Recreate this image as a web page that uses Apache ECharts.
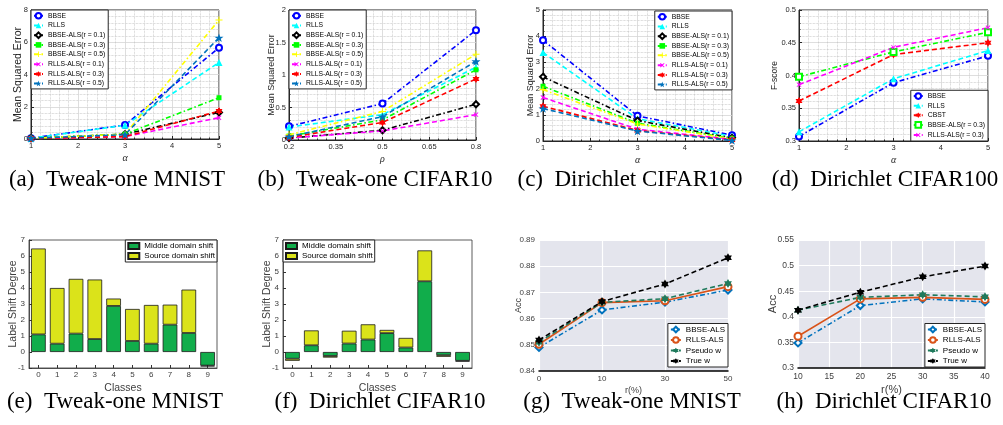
<!DOCTYPE html>
<html>
<head>
<meta charset="utf-8">
<script src="https://cdn.jsdelivr.net/npm/echarts@6/dist/echarts.min.js"></script>
<style>
  body { margin: 0; background: #fff; }
  .panel { position: absolute; }
</style>
</head>
<body>
<div id="pa" class="panel" style="left:0;top:0;width:250px;height:200px"></div>
<div id="pb" class="panel" style="left:250px;top:0;width:250px;height:200px"></div>
<div id="pc" class="panel" style="left:500px;top:0;width:250px;height:200px"></div>
<div id="pd" class="panel" style="left:750px;top:0;width:253px;height:200px"></div>
<div id="pe" class="panel" style="left:0;top:200px;width:250px;height:225px"></div>
<div id="pf" class="panel" style="left:250px;top:200px;width:250px;height:225px"></div>
<div id="pg" class="panel" style="left:500px;top:200px;width:250px;height:225px"></div>
<div id="ph" class="panel" style="left:750px;top:200px;width:253px;height:225px"></div>
<script>
// (a) Tweak-one MNIST, MSE vs alpha
const alphaA = [1, 3, 5]
const aBBSE = [0.05, 0.87, 5.66]
const aRLLS = [0.05, 0.85, 4.75]
const aBBSEals1 = [0.05, 0.3, 1.65]
const aBBSEals3 = [0.05, 0.3, 2.56]
const aBBSEals5 = [0.05, 0.3, 7.38]
const aRLLSals1 = [0.03, 0.15, 1.32]
const aRLLSals3 = [0.03, 0.15, 1.73]
const aRLLSals5 = [0.05, 0.27, 6.28]

// (b) Tweak-one CIFAR10, MSE vs rho
const rhoB = [0.2, 0.5, 0.8]
const bBBSE = [0.21, 0.56, 1.69]
const bRLLS = [0.2, 0.39, 1.12]
const bBBSEals1 = [0.03, 0.15, 0.55]
const bBBSEals3 = [0.06, 0.31, 1.08]
const bBBSEals5 = [0.08, 0.44, 1.32]
const bRLLSals1 = [0.03, 0.14, 0.39]
const bRLLSals3 = [0.04, 0.27, 0.94]
const bRLLSals5 = [0.05, 0.36, 1.21]

// (c) Dirichlet CIFAR100, MSE vs alpha
const alphaC = [1, 3, 5]
const cBBSE = [3.85, 0.96, 0.22]
const cRLLS = [3.38, 0.85, 0.18]
const cBBSEals1 = [2.45, 0.78, 0.12]
const cBBSEals3 = [2.09, 0.68, 0.1]
const cBBSEals5 = [1.96, 0.65, 0.08]
const cRLLSals1 = [1.66, 0.45, 0.06]
const cRLLSals3 = [1.33, 0.4, 0.04]
const cRLLSals5 = [1.24, 0.38, 0.02]

// (d) Dirichlet CIFAR100, F-score vs alpha
const alphaD = [1, 3, 5]
const dBBSE = [0.307, 0.389, 0.43]
const dRLLS = [0.314, 0.395, 0.438]
const dCBST = [0.361, 0.432, 0.45]
const dBBSEals3 = [0.398, 0.436, 0.466]
const dRLLSals3 = [0.386, 0.443, 0.473]

// (e) / (f) label shift degree per class
const classes = ['0', '1', '2', '3', '4', '5', '6', '7', '8', '9']
const eMiddle = [1.1, 0.52, 1.15, 0.81, 2.88, 0.69, 0.52, 1.71, 1.19, -0.85]
const eSource = [5.37, 3.48, 3.42, 3.72, 0.46, 2.0, 2.42, 1.25, 2.71, -0.05]
const fMiddle = [-0.42, 0.42, -0.25, 0.53, 0.78, 1.18, 0.28, 4.42, -0.2, -0.55]
const fSource = [-0.13, 0.93, -0.1, 0.8, 0.95, 0.2, 0.6, 1.93, -0.1, -0.05]

// (g) Tweak-one MNIST, Acc vs r(%)
const gR = ['0', '10', '30', '50']
const gBBSE = [0.849, 0.8633, 0.8663, 0.8709]
const gRLLS = [0.8502, 0.8661, 0.8668, 0.8722]
const gPseudo = [0.851, 0.8662, 0.8676, 0.8734]
const gTrue = [0.8518, 0.8665, 0.8732, 0.8832]

// (h) Dirichlet CIFAR10, Acc vs r(%)
const hR = [10, 20, 30, 40]
const hBBSE = [0.349, 0.422, 0.435, 0.429]
const hRLLS = [0.362, 0.435, 0.438, 0.434]
const hPseudo = [0.413, 0.438, 0.443, 0.439]
const hTrue = [0.413, 0.448, 0.478, 0.499]

function starPath(n, rOut, rIn) {
  let d = ''
  for (let i = 0; i < n * 2; i++) {
    const r = i % 2 ? rIn : rOut
    const a = Math.PI * i / n - Math.PI / 2
    d += (i ? 'L' : 'M') + (10 + r * Math.cos(a)).toFixed(2) + ',' + (10 + r * Math.sin(a)).toFixed(2)
  }
  return 'path://' + d + 'Z'
}
const PENTA = starPath(5, 10, 4)
const HEXA = starPath(6, 10, 5.8)
const PLUS = 'path://M8.5,0H11.5V8.5H20V11.5H11.5V20H8.5V11.5H0V8.5H8.5Z'

const DASHDOT = [5, 2.5, 1.5, 2.5]
const DASH = [5, 3]
const SANS = 'Liberation Sans'

function line(name, xs, ys, color, dash, symbol, size, rotate) {
  return {
    name: name,
    type: 'line',
    data: xs.map((x, i) => [x, ys[i]]),
    symbol: symbol,
    symbolSize: size,
    symbolRotate: rotate || 0,
    symbolKeepAspect: true,
    lineStyle: { color: color, width: 1.6, type: dash },
    itemStyle: { color: color }
  }
}

function caption(x, y, text) {
  return {
    type: 'text', x: x, y: y, silent: true,
    style: { text: text, fontSize: 23, fontFamily: 'Liberation Serif', fill: '#000', align: 'center', verticalAlign: 'middle' }
  }
}

function valueAxis(min, max, interval, extra) {
  return Object.assign({
    type: 'value', min: min, max: max, interval: interval,
    axisLine: { show: true, lineStyle: { color: '#262626' } },
    axisTick: { show: true, inside: true, length: 3, lineStyle: { color: '#262626' } },
    axisLabel: { fontSize: 7.5, color: '#262626', fontFamily: SANS, margin: 3 },
    splitLine: { show: true, lineStyle: { color: '#d6d6d6', width: 0.8 } },
    minorTick: { show: true, splitNumber: 5, length: 1.5, lineStyle: { color: '#262626' } },
    minorSplitLine: { show: true, lineStyle: { color: '#bdbdbd', type: 'dotted', width: 0.7 } },
    nameLocation: 'middle',
    nameMoveOverlap: false,
    nameTextStyle: { fontSize: 9, color: '#262626', fontFamily: SANS }
  }, extra)
}

function topLegend(pos) {
  return Object.assign({
    orient: 'vertical',
    backgroundColor: '#fff', borderColor: '#262626', borderWidth: 1, borderRadius: 0,
    padding: [2, 3, 2, 2], itemGap: 2.4, itemWidth: 9, itemHeight: 7,
    textStyle: { fontSize: 6.8, color: '#000', fontFamily: SANS }
  }, pos)
}

function msePanel(id, cfg) {
  const chart = echarts.init(document.getElementById(id))
  chart.setOption({
    animation: false,
    grid: Object.assign({ show: true, borderColor: '#262626', borderWidth: 1 }, cfg.grid),
    legend: topLegend(cfg.legend),
    xAxis: valueAxis(cfg.x[0], cfg.x[1], cfg.x[2], {
      name: cfg.xName, nameGap: 14,
      nameTextStyle: { fontSize: 10, fontStyle: 'italic', fontFamily: 'Liberation Serif', color: '#262626' }
    }),
    yAxis: valueAxis(cfg.y[0], cfg.y[1], cfg.y[2], {
      name: cfg.yName, nameGap: cfg.yGap,
      nameTextStyle: { fontSize: cfg.yFont, color: '#262626', fontFamily: SANS }
    }),
    series: cfg.series,
    graphic: [caption(cfg.capX, 180, cfg.caption)]
  })
}

msePanel('pa', {
  grid: { left: 31, top: 10, width: 188, height: 129 },
  legend: { left: 31, top: 10 },
  x: [1, 5, 1], y: [0, 8, 2], xName: 'α', yName: 'Mean Squared Error', yGap: 7, yFont: 10.5,
  caption: '(a)  Tweak-one MNIST', capX: 117,
  series: [
    line('BBSE', alphaA, aBBSE, '#0000ff', DASHDOT, 'emptyCircle', 6),
    line('RLLS', alphaA, aRLLS, '#00ffff', DASH, 'triangle', 7),
    line('BBSE-ALS(r = 0.1)', alphaA, aBBSEals1, '#000000', DASHDOT, 'emptyDiamond', 6),
    line('BBSE-ALS(r = 0.3)', alphaA, aBBSEals3, '#00ff00', DASHDOT, 'rect', 5),
    line('BBSE-ALS(r = 0.5)', alphaA, aBBSEals5, '#ffff00', DASHDOT, PLUS, 7),
    line('RLLS-ALS(r = 0.1)', alphaA, aRLLSals1, '#ff00ff', DASH, PLUS, 6, 45),
    line('RLLS-ALS(r = 0.3)', alphaA, aRLLSals3, '#ff0000', DASH, HEXA, 8),
    line('RLLS-ALS(r = 0.5)', alphaA, aRLLSals5, '#0072bd', DASH, PENTA, 9)
  ]
})

msePanel('pb', {
  grid: { left: 39, top: 10, width: 187, height: 130 },
  legend: { left: 39, top: 10 },
  x: [0.2, 0.8, 0.15], y: [0, 2, 0.5], xName: 'ρ', yName: 'Mean Squared Error', yGap: 13, yFont: 9,
  caption: '(b)  Tweak-one CIFAR10', capX: 125,
  series: [
    line('BBSE', rhoB, bBBSE, '#0000ff', DASHDOT, 'emptyCircle', 6),
    line('RLLS', rhoB, bRLLS, '#00ffff', DASH, 'triangle', 7),
    line('BBSE-ALS(r = 0.1)', rhoB, bBBSEals1, '#000000', DASHDOT, 'emptyDiamond', 6),
    line('BBSE-ALS(r = 0.3)', rhoB, bBBSEals3, '#00ff00', DASHDOT, 'rect', 5),
    line('BBSE-ALS(r = 0.5)', rhoB, bBBSEals5, '#ffff00', DASHDOT, PLUS, 7),
    line('RLLS-ALS(r = 0.1)', rhoB, bRLLSals1, '#ff00ff', DASH, PLUS, 6, 45),
    line('RLLS-ALS(r = 0.3)', rhoB, bRLLSals3, '#ff0000', DASH, HEXA, 8),
    line('RLLS-ALS(r = 0.5)', rhoB, bRLLSals5, '#0072bd', DASH, PENTA, 9)
  ]
})

msePanel('pc', {
  grid: { left: 43, top: 10, width: 189, height: 131 },
  legend: { right: 18, top: 11 },
  x: [1, 5, 1], y: [0, 5, 1], xName: 'α', yName: 'Mean Squared Error', yGap: 8, yFont: 9,
  caption: '(c)  Dirichlet CIFAR100', capX: 130,
  series: [
    line('BBSE', alphaC, cBBSE, '#0000ff', DASHDOT, 'emptyCircle', 6),
    line('RLLS', alphaC, cRLLS, '#00ffff', DASH, 'triangle', 7),
    line('BBSE-ALS(r = 0.1)', alphaC, cBBSEals1, '#000000', DASHDOT, 'emptyDiamond', 6),
    line('BBSE-ALS(r = 0.3)', alphaC, cBBSEals3, '#00ff00', DASHDOT, 'rect', 5),
    line('BBSE-ALS(r = 0.5)', alphaC, cBBSEals5, '#ffff00', DASHDOT, PLUS, 7),
    line('RLLS-ALS(r = 0.1)', alphaC, cRLLSals1, '#ff00ff', DASH, PLUS, 6, 45),
    line('RLLS-ALS(r = 0.3)', alphaC, cRLLSals3, '#ff0000', DASH, HEXA, 8),
    line('RLLS-ALS(r = 0.5)', alphaC, cRLLSals5, '#0072bd', DASH, PENTA, 9)
  ]
})

msePanel('pd', {
  grid: { left: 49, top: 10, width: 189, height: 131 },
  legend: { right: 15, bottom: 59 },
  x: [1, 5, 1], y: [0.3, 0.5, 0.05], xName: 'α', yName: 'F-score', yGap: 20, yFont: 8.5,
  caption: '(d)  Dirichlet CIFAR100', capX: 135,
  series: [
    line('BBSE', alphaD, dBBSE, '#0000ff', DASHDOT, 'emptyCircle', 6),
    line('RLLS', alphaD, dRLLS, '#00ffff', DASH, 'triangle', 7),
    line('CBST', alphaD, dCBST, '#ff0000', DASH, HEXA, 8),
    line('BBSE-ALS(r = 0.3)', alphaD, dBBSEals3, '#00ff00', DASHDOT, 'emptyRect', 6),
    line('RLLS-ALS(r = 0.3)', alphaD, dRLLSals3, '#ff00ff', DASH, PLUS, 6, 45)
  ]
})

function barPanel(id, cfg) {
  const chart = echarts.init(document.getElementById(id))
  const bar = (name, data, color) => ({
    name: name, type: 'bar', stack: 'shift', data: data, barWidth: '78%',
    itemStyle: { color: color, borderColor: '#1a1a1a', borderWidth: 0.8 }
  })
  chart.setOption({
    animation: false,
    grid: Object.assign({ show: true, borderColor: '#333', borderWidth: 0.8 }, cfg.grid),
    legend: Object.assign({
      orient: 'vertical', backgroundColor: '#fff', borderColor: '#262626', borderWidth: 1,
      padding: [2, 2, 2, 2], itemGap: 2, itemWidth: 11, itemHeight: 6, icon: 'rect',
      textStyle: { fontSize: 8, color: '#000', fontFamily: SANS }
    }, cfg.legend),
    xAxis: {
      type: 'category', data: classes, name: 'Classes', nameLocation: 'middle', nameGap: 15,
      nameMoveOverlap: false,
      nameTextStyle: { fontSize: 10.5, color: '#404040', fontFamily: SANS },
      axisLine: { show: true, onZero: false, lineStyle: { color: '#333', width: 0.8 } },
      axisTick: { show: true, inside: true, length: 3, alignWithLabel: true, lineStyle: { color: '#333' } },
      axisLabel: { fontSize: 8, color: '#404040', fontFamily: SANS, margin: 3 }
    },
    yAxis: {
      type: 'value', min: -1, max: 7, interval: 1, name: 'Label Shift Degree', nameLocation: 'middle', nameGap: 10,
      nameMoveOverlap: false,
      nameTextStyle: { fontSize: 10.5, color: '#404040', fontFamily: SANS },
      axisLine: { show: true, lineStyle: { color: '#333', width: 0.8 } },
      axisTick: { show: true, inside: true, length: 3, lineStyle: { color: '#333' } },
      axisLabel: { fontSize: 8, color: '#404040', fontFamily: SANS, margin: 4 },
      splitLine: { show: false }
    },
    series: [
      bar('Middle domain shift', cfg.middle, '#11ad4b'),
      bar('Source domain shift', cfg.source, '#dbe31a')
    ],
    graphic: [caption(cfg.capX, 202, cfg.caption)]
  })
}

barPanel('pe', {
  grid: { left: 27, top: 40, width: 190, height: 128 },
  legend: { right: 33, top: 40 },
  middle: eMiddle, source: eSource,
  caption: '(e)  Tweak-one MNIST', capX: 115
})

barPanel('pf', {
  grid: { left: 33, top: 40, width: 189, height: 128 },
  legend: { left: 33, top: 40 },
  middle: fMiddle, source: fSource,
  caption: '(f)  Dirichlet CIFAR10', capX: 130
})

function accPanel(id, cfg) {
  const chart = echarts.init(document.getElementById(id))
  const white = { show: true, lineStyle: { color: '#fff', width: 1.2 } }
  chart.setOption({
    animation: false,
    grid: Object.assign({ show: true, backgroundColor: '#e4e5ed', borderWidth: 0 }, cfg.grid),
    legend: Object.assign({
      orient: 'vertical', backgroundColor: '#fff', borderColor: '#262626', borderWidth: 1,
      padding: [2, 3, 2, 2], itemGap: 2.5, itemWidth: 10, itemHeight: 7,
      textStyle: { fontSize: 8, color: '#000', fontFamily: SANS }
    }, cfg.legend),
    xAxis: Object.assign({
      name: 'r(%)', nameLocation: 'middle', nameGap: cfg.xGap, nameMoveOverlap: false,
      nameTextStyle: { fontSize: cfg.nameFont, color: '#404040', fontFamily: SANS },
      axisLine: { show: true, lineStyle: { color: '#000', width: 1.5 } },
      axisTick: { show: false },
      axisLabel: { fontSize: cfg.tickFont, color: '#404040', fontFamily: SANS, margin: 4 },
      splitLine: white
    }, cfg.xAxis),
    yAxis: {
      type: 'value', min: cfg.y[0], max: cfg.y[1], interval: cfg.y[2],
      name: 'Acc', nameLocation: 'middle', nameGap: cfg.yGap, nameMoveOverlap: false,
      nameTextStyle: { fontSize: cfg.nameFont, color: '#404040', fontFamily: SANS },
      axisLine: { show: false }, axisTick: { show: false },
      axisLabel: { fontSize: cfg.tickFont, color: '#404040', fontFamily: SANS, margin: 4 },
      splitLine: white
    },
    series: [
      line('BBSE-ALS', cfg.xs, cfg.bbse, '#0072bd', DASHDOT, 'emptyDiamond', 7),
      line('RLLS-ALS', cfg.xs, cfg.rlls, '#d95319', 'solid', 'emptyCircle', 7),
      line('Pseudo w', cfg.xs, cfg.pseudo, '#1f7a5c', DASH, HEXA, 9),
      line('True w', cfg.xs, cfg.truth, '#000000', DASH, HEXA, 9)
    ],
    graphic: [caption(cfg.capX, 202, cfg.caption)]
  })
}

accPanel('pg', {
  grid: { left: 39, top: 40, width: 189, height: 131 },
  legend: { right: 22, bottom: 58 },
  xAxis: { type: 'category', data: gR, boundaryGap: false },
  xs: gR, y: [0.84, 0.89, 0.01], xGap: 15, yGap: 16, nameFont: 9, tickFont: 8,
  bbse: gBBSE, rlls: gRLLS, pseudo: gPseudo, truth: gTrue,
  caption: '(g)  Tweak-one MNIST', capX: 132
})

accPanel('ph', {
  grid: { left: 48, top: 40, width: 187, height: 128 },
  legend: { right: 18, bottom: 58 },
  xAxis: { type: 'value', min: 10, max: 40, interval: 5 },
  xs: hR, y: [0.3, 0.55, 0.05], xGap: 16, yGap: 20, nameFont: 11, tickFont: 8.5,
  bbse: hBBSE, rlls: hRLLS, pseudo: hPseudo, truth: hTrue,
  caption: '(h)  Dirichlet CIFAR10', capX: 134
})
</script>
</body>
</html>
